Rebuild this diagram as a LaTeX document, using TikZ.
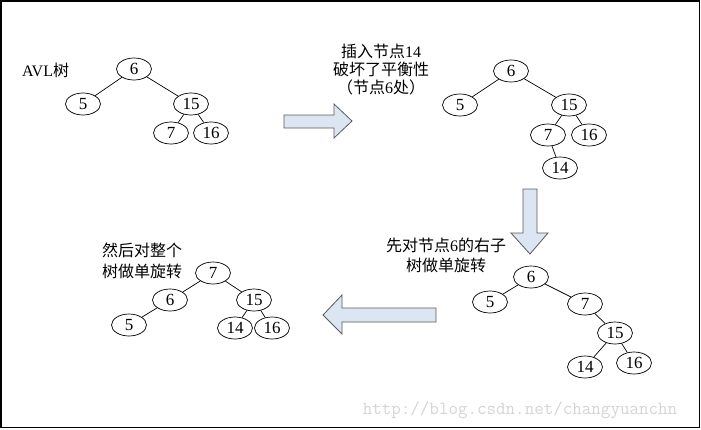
\documentclass[tikz,border=0pt]{standalone}
\usepackage{fontspec}
\setmainfont{Liberation Serif}
\newfontfamily\cjk{Noto Sans CJK SC}
\usetikzlibrary{shapes.geometric}
\definecolor{arrowfill}{RGB}{220,230,242}
\definecolor{arrowline}{RGB}{90,90,90}
\definecolor{wmark}{RGB}{212,212,212}
\begin{document}
\begin{tikzpicture}[x=1pt,y=-1pt,
  tn/.style={ellipse, draw, line width=0.7pt, minimum width=35pt, minimum height=22pt, inner sep=0pt, font=\fontsize{17}{17}\selectfont},
  link/.style={line width=0.7pt},
  blockarrow/.style={draw=arrowline, fill=arrowfill, line width=0.8pt, line join=miter},
  lbl/.style={font=\fontsize{16}{19}\selectfont, inner sep=0pt}
]
\useasboundingbox (0,0) rectangle (701,429);
\draw[line width=1.5pt] (0.75,0.75) rectangle (699.5,427.5);

% watermark
\node[text=wmark, font=\ttfamily\fontsize{18.5}{18.5}\selectfont, anchor=center, inner sep=0pt] (wm) at (520,410) {http://blog.csdn.net/changyuanchn};

% ---- tree 1
\node[lbl, anchor=west] (t1) at (22,70) {AVL{\cjk 树}};
\node[tn] (a6) at (134,69) {6};
\node[tn] (a5) at (83,104) {5};
\node[tn] (a15) at (191,104) {15};
\node[tn] (a7) at (171,133) {7};
\node[tn] (a16) at (211,133) {16};
\draw[link] (a6) -- (a5);
\draw[link] (a6) -- (a15);
\draw[link] (a15) -- (a7);
\draw[link] (a15) -- (a16);

% ---- arrow right
\draw[blockarrow] (284,115) -- (334,115) -- (334,104) -- (352,121) -- (334,138) -- (334,128) -- (284,128) -- cycle;
\node[lbl, align=center, font=\fontsize{16}{18}\selectfont] (t2) at (381,70) {{\cjk 插入节点}14\\{\cjk 破坏了平衡性}\\{\cjk （节点}6{\cjk 处）}};

% ---- tree 2
\node[tn] (b6) at (511,71) {6};
\node[tn] (b5) at (460,105) {5};
\node[tn] (b15) at (569,105) {15};
\node[tn] (b7) at (548,135) {7};
\node[tn] (b16) at (589,135) {16};
\node[tn] (b14) at (560,168) {14};
\draw[link] (b6) -- (b5);
\draw[link] (b6) -- (b15);
\draw[link] (b15) -- (b7);
\draw[link] (b15) -- (b16);
\draw[link] (b7) -- (b14);

% ---- arrow down
\draw[blockarrow] (523,189) -- (537,189) -- (537,233) -- (548,233) -- (530,254) -- (511,233) -- (523,233) -- cycle;
\node[lbl, align=center, font=\fontsize{16}{20}\selectfont] (t3) at (446,255) {{\cjk 先对节点}6{\cjk 的右子}\\{\cjk 树做单旋转}};

% ---- tree 3
\node[tn] (c6) at (531,277) {6};
\node[tn] (c5) at (490,302) {5};
\node[tn] (c7) at (585,304) {7};
\node[tn] (c15) at (615,333) {15};
\node[tn] (c14) at (585,367) {14};
\node[tn] (c16) at (634,363) {16};
\draw[link] (c6) -- (c5);
\draw[link] (c6) -- (c7);
\draw[link] (c7) -- (c15);
\draw[link] (c15) -- (c14);
\draw[link] (c15) -- (c16);

% ---- arrow left
\draw[blockarrow] (436,308) -- (342,308) -- (342,295) -- (323,315) -- (342,334) -- (342,322) -- (436,322) -- cycle;

% ---- tree 4
\node[lbl, align=left, anchor=north west, font=\fontsize{16}{21}\selectfont] (t4) at (102,243) {{\cjk 然后对整个}\\{\cjk 树做单旋转}};
\node[tn] (d7) at (213,273) {7};
\node[tn] (d6) at (170,300) {6};
\node[tn] (d15) at (254,300) {15};
\node[tn] (d5) at (129,325) {5};
\node[tn] (d14) at (235,328) {14};
\node[tn] (d16) at (272,328) {16};
\draw[link] (d7) -- (d6);
\draw[link] (d7) -- (d15);
\draw[link] (d6) -- (d5);
\draw[link] (d15) -- (d14);
\draw[link] (d15) -- (d16);
\end{tikzpicture}
\end{document}
